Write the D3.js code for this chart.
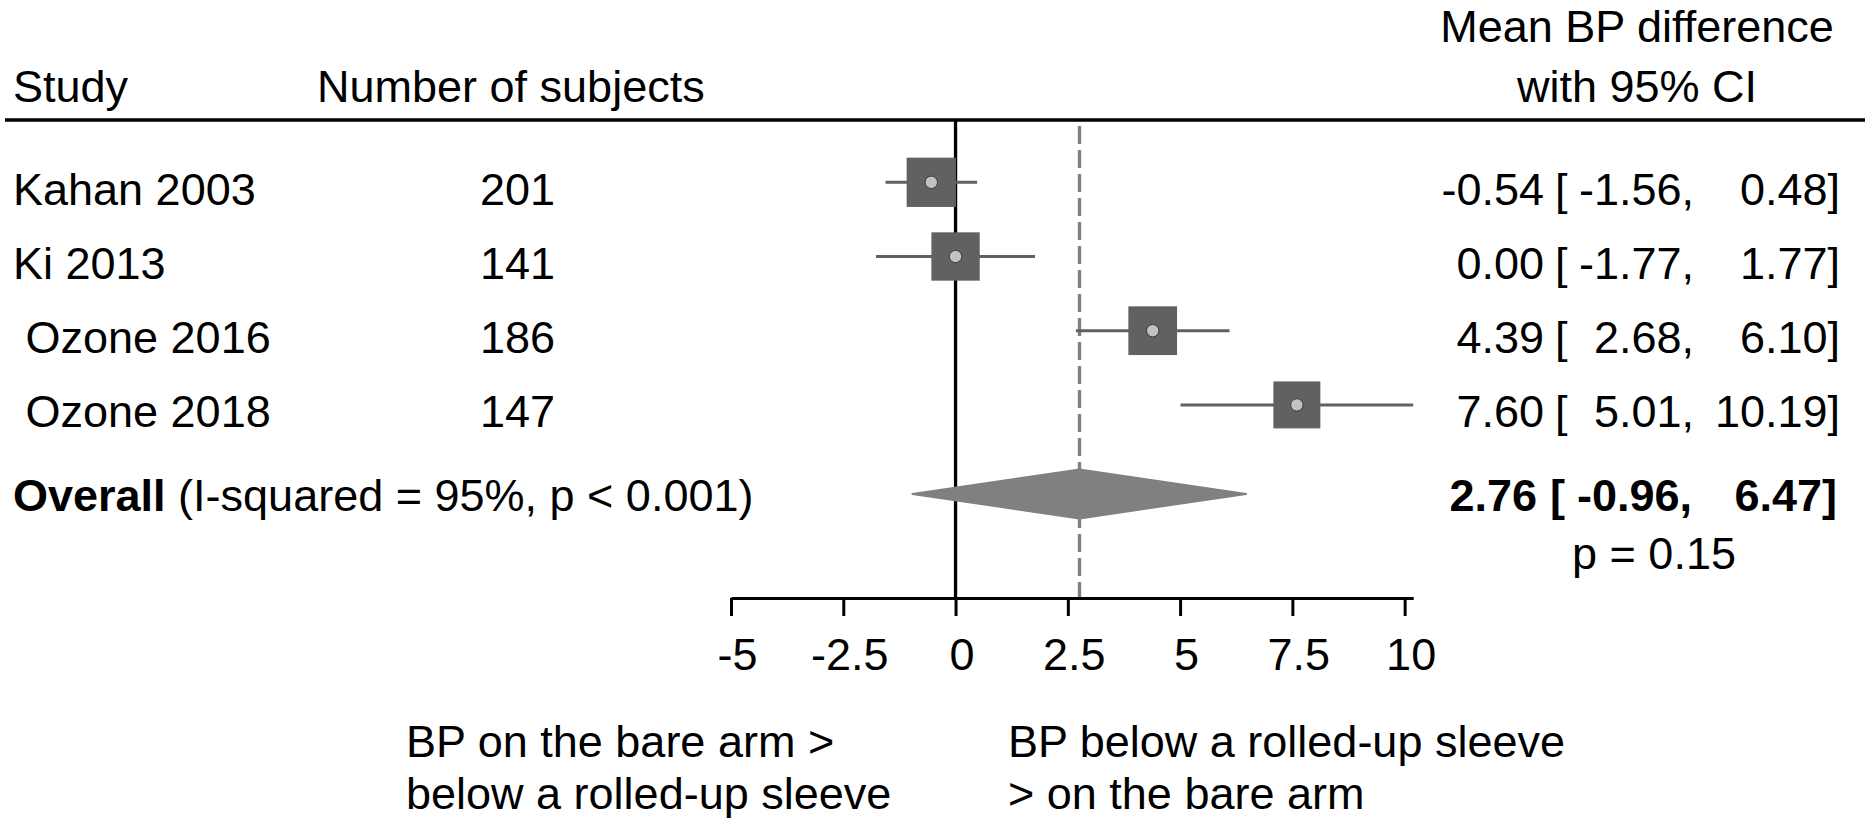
<!DOCTYPE html>
<html>
<head>
<meta charset="utf-8">
<script src="https://cdn.jsdelivr.net/npm/d3@7"></script>
<style>
    html, body { margin: 0; padding: 0; background: #ffffff; }
    svg { display: block; }
    text { font-family: "Liberation Sans", Arial, sans-serif; font-size: 45px; fill: #000000; white-space: pre; }
</style>
</head>
<body>
<div id="chart"></div>
<script>
/**
 * Forest plot: mean BP difference (bare arm vs rolled-up sleeve), random effects.
 */

const studies = ['Kahan 2003', 'Ki 2013', ' Ozone 2016', ' Ozone 2018'];
const subjects = [201, 141, 186, 147];
const means = [-0.54, 0.0, 4.39, 7.6];
const lowers = [-1.56, -1.77, 2.68, 5.01];
const uppers = [0.48, 1.77, 6.1, 10.19];
const weights = [26.0, 25.0, 25.4, 23.6];

const overallMean = 2.76;
const overallLower = -0.96;
const overallUpper = 6.47;
const overallLabel = ' (I-squared = 95%, p < 0.001)';
const overallP = 'p = 0.15';

const xTicks = [-5, -2.5, 0, 2.5, 5, 7.5, 10];

const width = 1865;
const height = 828;

const fmt = d3.formatLocale({ decimal: '.', thousands: ',', grouping: [3], currency: ['', ''], minus: '-' }).format('.2f');

function renderForestPlot(container) {
    const rows = studies.map((study, i) => ({
        study,
        n: subjects[i],
        mean: means[i],
        lower: lowers[i],
        upper: uppers[i],
        weight: weights[i],
        index: i
    }));

    const x = d3
        .scaleLinear()
        .domain([-5, d3.max(uppers)])
        .range([731, 731 + (d3.max(uppers) + 5) * 44.91]);

    // one unit = one study row; overall sits a bit further down
    const y = d3.scaleLinear().domain([0, 1]).range([182.3, 256.5]);
    const overallRow = 4.2;

    const boxSide = d3.scaleSqrt().domain([0, d3.max(weights)]).range([0, 49.3]);

    const headerY = 120;
    const axisY = 598;

    const svg = d3
        .select(container)
        .append('svg')
        .attr('width', width)
        .attr('height', height)
        .attr('viewBox', [0, 0, width, height]);

    // column headers
    svg.append('text').attr('x', 13).attr('y', 102).text('Study');
    svg.append('text').attr('x', 317).attr('y', 102).text('Number of subjects');
    svg.append('text').attr('x', 1637).attr('y', 42).attr('text-anchor', 'middle').text('Mean BP difference');
    svg.append('text').attr('x', 1637).attr('y', 102).attr('text-anchor', 'middle').text('with 95% CI');

    svg.append('line')
        .attr('x1', 5)
        .attr('x2', width)
        .attr('y1', headerY)
        .attr('y2', headerY)
        .attr('stroke', '#000000')
        .attr('stroke-width', 3.6);

    // reference lines
    svg.append('line')
        .attr('x1', x(0))
        .attr('x2', x(0))
        .attr('y1', headerY)
        .attr('y2', axisY)
        .attr('stroke', '#000000')
        .attr('stroke-width', 3.3);

    svg.append('line')
        .attr('x1', x(overallMean))
        .attr('x2', x(overallMean))
        .attr('y1', headerY + 6)
        .attr('y2', axisY)
        .attr('stroke', '#808080')
        .attr('stroke-width', 3.4)
        .attr('stroke-dasharray', '18 6');

    // study rows
    const rowGroups = svg.append('g').selectAll('g').data(rows).join('g');

    rowGroups
        .append('line')
        .attr('x1', (d) => x(d.lower))
        .attr('x2', (d) => x(d.upper))
        .attr('y1', (d) => y(d.index))
        .attr('y2', (d) => y(d.index))
        .attr('stroke', '#606060')
        .attr('stroke-width', 3);

    rowGroups
        .append('rect')
        .attr('x', (d) => x(d.mean) - boxSide(d.weight) / 2)
        .attr('y', (d) => y(d.index) - boxSide(d.weight) / 2)
        .attr('width', (d) => boxSide(d.weight))
        .attr('height', (d) => boxSide(d.weight))
        .attr('fill', '#616161');

    rowGroups
        .append('circle')
        .attr('cx', (d) => x(d.mean))
        .attr('cy', (d) => y(d.index))
        .attr('r', 6.2)
        .attr('fill', '#c2c2c2')
        .attr('stroke', '#3a3a3a')
        .attr('stroke-width', 1);

    rowGroups
        .append('text')
        .attr('x', 13)
        .attr('y', (d) => y(d.index) + 22.5)
        .text((d) => d.study);

    rowGroups
        .append('text')
        .attr('x', 555)
        .attr('y', (d) => y(d.index) + 22.5)
        .attr('text-anchor', 'end')
        .text((d) => d.n);

    // effect column: estimate, [lower, upper]; shifts nudge the bold row
    const effectColumns = (sel, yPos, mean, lower, upper, shifts = [0, 0, 0, 0]) => {
        sel.append('text').attr('x', 1544 - shifts[0]).attr('y', yPos).attr('text-anchor', 'end').text(fmt(mean));
        sel.append('text').attr('x', 1555 - shifts[1]).attr('y', yPos).text('[');
        sel.append('text').attr('x', 1694 - shifts[2]).attr('y', yPos).attr('text-anchor', 'end').text(`${fmt(lower)},`);
        sel.append('text').attr('x', 1840 - shifts[3]).attr('y', yPos).attr('text-anchor', 'end').text(`${fmt(upper)}]`);
    };

    rowGroups.each(function addEffect(d) {
        effectColumns(d3.select(this), y(d.index) + 22.5, d.mean, d.lower, d.upper);
    });

    // overall
    const oy = y(overallRow);
    svg.append('path')
        .attr(
            'd',
            d3.line()([
                [x(overallLower), oy],
                [x(overallMean), oy - 24.5],
                [x(overallUpper), oy],
                [x(overallMean), oy + 24.5]
            ]) + 'Z'
        )
        .attr('fill', '#808080')
        .attr('stroke', '#808080')
        .attr('stroke-width', 2)
        .attr('stroke-linejoin', 'round');

    const overallText = svg.append('text').attr('x', 13).attr('y', oy + 17);
    overallText.append('tspan').attr('font-weight', 'bold').text('Overall');
    overallText.append('tspan').text(overallLabel);

    const overallGroup = svg.append('g');
    effectColumns(overallGroup, oy + 17, overallMean, overallLower, overallUpper, [7, 5, 2, 3]);
    overallGroup.selectAll('text').attr('font-weight', 'bold');

    svg.append('text').attr('x', 1654).attr('y', 569).attr('text-anchor', 'middle').text(overallP);

    // x axis
    const axis = svg
        .append('g')
        .attr('transform', `translate(0,${axisY})`)
        .call(
            d3
                .axisBottom(x)
                .tickValues(xTicks)
                .tickSize(18)
                .tickSizeOuter(0)
                .tickFormat((d) => String(d))
        );

    axis.select('.domain').attr('stroke', '#000000').attr('stroke-width', 3);
    axis.selectAll('.tick line').attr('stroke', '#000000').attr('stroke-width', 3);
    axis.selectAll('.tick text')
        .attr('y', 72)
        .attr('dy', null)
        .attr('dx', 6)
        .attr('fill', '#000000')
        .style('font-size', '45px')
        .style('font-family', '"Liberation Sans", Arial, sans-serif');

    // direction labels
    const leftNote = svg.append('text').attr('y', 757);
    leftNote.append('tspan').attr('x', 406).text('BP on the bare arm >');
    leftNote.append('tspan').attr('x', 406).attr('y', 809).text('below a rolled-up sleeve');

    const rightNote = svg.append('text').attr('y', 757);
    rightNote.append('tspan').attr('x', 1008).text('BP below a rolled-up sleeve');
    rightNote.append('tspan').attr('x', 1008).attr('y', 809).text('> on the bare arm');
}

renderForestPlot(document.getElementById('chart'));
</script>
</body>
</html>
